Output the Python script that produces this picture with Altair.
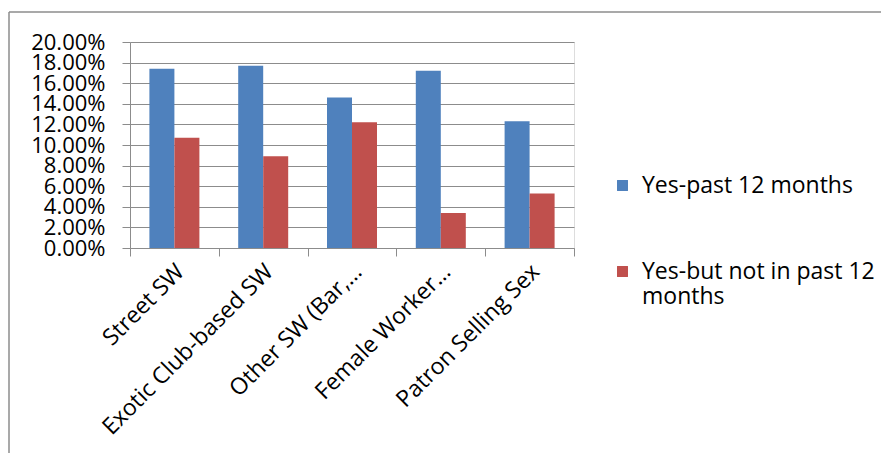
import altair as alt
import pandas as pd

categories = ["Street SW", "Exotic Club-based SW", "Other SW (Bar,…", "Female Worker…", "Patron Selling Sex"]
series = ["Yes-past 12 months", "Yes-but not in past 12 months"]
past12 = [0.174, 0.177, 0.146, 0.172, 0.123]
notpast12 = [0.107, 0.089, 0.122, 0.034, 0.053]
colors = ["#4F81BD", "#C0504D"]
y_ticks = [0.0, 0.02, 0.04, 0.06, 0.08, 0.10, 0.12, 0.14, 0.16, 0.18, 0.20]

rows = []
for c, a, b in zip(categories, past12, notpast12):
    rows.append({"category": c, "series": series[0], "value": a})
    rows.append({"category": c, "series": series[1], "value": b})
df = pd.DataFrame(rows)

FONT = "Open Sans"
GRID = "#8c8c8c"

bars = alt.Chart(df).mark_bar().encode(
    x=alt.X("category:N", sort=categories, title=None,
            scale=alt.Scale(paddingInner=0, paddingOuter=0),
            axis=alt.Axis(labelAngle=-45, labelAlign="right", labelBaseline="top",
                          labelFont=FONT, labelFontSize=23, labelColor="#000",
                          labelPadding=4, labelOffset=-2, labelOverlap=False,
                          tickBand="extent", tickSize=8, tickColor=GRID,
                          domainColor=GRID, grid=False, labelLimit=400)),
    xOffset=alt.XOffset("series:N", sort=series,
                        scale=alt.Scale(paddingInner=0, paddingOuter=0.776)),
    y=alt.Y("value:Q", title=None,
            scale=alt.Scale(domain=[0, 0.2], nice=False),
            axis=alt.Axis(values=y_ticks, format=".2%", labelFont=FONT, labelFontSize=22,
                          labelColor="#000", tickSize=8, tickColor=GRID, domainColor=GRID,
                          gridColor=GRID, labelPadding=17, labelOverlap=False)),
    color=alt.Color("series:N", sort=series,
                    scale=alt.Scale(domain=series, range=colors),
                    legend=alt.Legend(title=None, orient="none", legendX=481, legendY=132,
                                      labelFont=FONT, labelFontSize=23, labelColor="#000",
                                      symbolType="square", symbolSize=120, symbolStrokeWidth=0,
                                      rowPadding=62, labelOffset=8, labelLimit=400,
                                      labelExpr="datum.label == 'Yes-but not in past 12 months' ? ['Yes-but not in past 12', 'months'] : datum.label")),
)

frame_df = pd.DataFrame({"k": [0]})
frame_top = alt.Chart(frame_df).mark_rule(color="#8c8c8c", strokeWidth=1.5).encode(
    x=alt.value(-121), x2=alt.value(770), y=alt.value(-30))
frame_left = alt.Chart(frame_df).mark_rule(color="#8c8c8c", strokeWidth=1.5).encode(
    x=alt.value(-121), y=alt.value(-30), y2=alt.value(430))

chart = alt.layer(bars, frame_top, frame_left).properties(
    width=444, height=206,
    autosize=alt.AutoSizeParams(type="none"),
    padding={"left": 122, "top": 34, "right": 307, "bottom": 205},
).configure_view(stroke=None).configure(background="white")

chart.save("out.html", embed_options={"renderer": "svg", "actions": False})
